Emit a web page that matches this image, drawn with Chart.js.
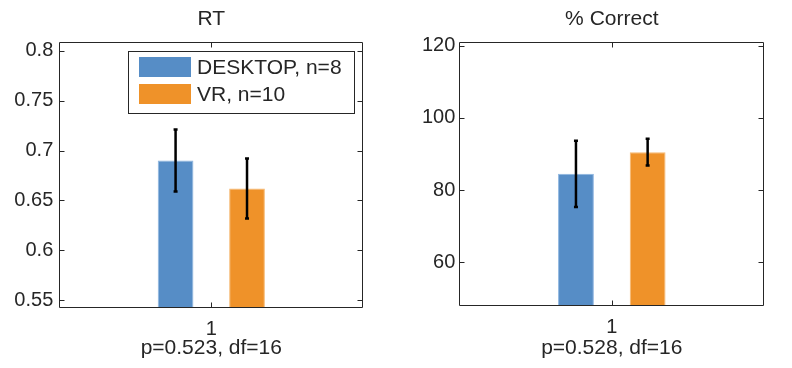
<!DOCTYPE html>
<html>
<head>
<meta charset="utf-8">
<script src="https://cdn.jsdelivr.net/npm/chart.js@4.4.1/dist/chart.umd.min.js"></script>
<style>
  html, body { margin: 0; padding: 0; background: #fff; }
  .row { display: flex; width: 792px; height: 368px; }
  .panel { width: 396px; height: 368px; }
</style>
</head>
<body>
<div class="row">
  <div class="panel"><canvas id="rtChart" width="396" height="368"></canvas></div>
  <div class="panel"><canvas id="pcChart" width="396" height="368"></canvas></div>
</div>
<script>
// ===== Data =====
const categories = ['1'];
const groups = ['DESKTOP, n=8', 'VR, n=10'];

const rtMeans = [0.69, 0.662];
const rtErrors = [0.031, 0.030];
const rtTicks = [0.55, 0.6, 0.65, 0.7, 0.75, 0.8];
const rtLimits = [0.542, 0.809];

const pcMeans = [84.5, 90.5];
const pcErrors = [9.2, 3.7];
const pcTicks = [60, 80, 100, 120];
const pcLimits = [47.9, 121.1];

const rtStats = 'p=0.523, df=16';
const pcStats = 'p=0.528, df=16';

// ===== Style =====
const FILLS = ['#568dc6', '#ef9229'];
const EDGES = ['#8db5e0', '#f6b870'];
const INK = '#262626';
const FAMILY = "'Liberation Sans', Arial, Helvetica, sans-serif";

// ===== Box + inward ticks (matlab look) =====
const matlabAxes = {
  id: 'matlabAxes',
  afterDraw(chart) {
    const { ctx, chartArea: a, scales: { x, y } } = chart;
    const len = 5;
    const L = Math.round(a.left) + 0.5;
    const R = Math.round(a.right) - 0.5;
    const T = Math.round(a.top) + 0.5;
    const B = Math.round(a.bottom) - 0.5;
    ctx.save();
    ctx.strokeStyle = INK;
    ctx.lineWidth = 1;
    ctx.beginPath();
    ctx.rect(L, T, R - L, B - T);
    y.ticks.forEach((t) => {
      const py = Math.round(y.getPixelForValue(t.value)) + 0.5;
      ctx.moveTo(L, py); ctx.lineTo(L + len, py);
      ctx.moveTo(R, py); ctx.lineTo(R - len, py);
    });
    x.ticks.forEach((t, i) => {
      const px = Math.round(x.getPixelForTick(i)) + 0.5;
      ctx.moveTo(px, B); ctx.lineTo(px, B - len);
      ctx.moveTo(px, T); ctx.lineTo(px, T + len);
    });
    ctx.stroke();
    ctx.restore();
  },
};

// ===== Error bars =====
const errorBars = {
  id: 'errorBars',
  afterDatasetsDraw(chart, args, opts) {
    const { ctx, scales: { y } } = chart;
    ctx.save();
    ctx.strokeStyle = '#000';
    ctx.lineWidth = 2.5;
    chart.data.datasets.forEach((ds, i) => {
      chart.getDatasetMeta(i).data.forEach((bar, j) => {
        const v = ds.data[j];
        const e = opts.errors[i];
        const top = y.getPixelForValue(v + e);
        const bot = y.getPixelForValue(v - e);
        ctx.beginPath();
        ctx.moveTo(bar.x, top); ctx.lineTo(bar.x, bot);
        ctx.moveTo(bar.x - 2, top); ctx.lineTo(bar.x + 2, top);
        ctx.moveTo(bar.x - 2, bot); ctx.lineTo(bar.x + 2, bot);
        ctx.stroke();
      });
    });
    ctx.restore();
  },
};

// ===== Legend inside the axes =====
const insideLegend = {
  id: 'insideLegend',
  afterDraw(chart, args, opts) {
    if (!opts.show) return;
    const { ctx, chartArea: a } = chart;
    ctx.save();
    ctx.font = `21px ${FAMILY}`;
    const textW = Math.max(...chart.data.datasets.map((d) => ctx.measureText(d.label).width));
    const w = Math.round(11 + 52 + 6 + textW + 12);
    const h = 62;
    const right = Math.round(a.right) - 9;
    const top = Math.round(a.top) + 9;
    const left = right - w;
    ctx.strokeStyle = INK;
    ctx.lineWidth = 1;
    ctx.strokeRect(left + 0.5, top + 0.5, w, h);
    chart.data.datasets.forEach((d, i) => {
      const sy = top + 6 + i * 27;
      ctx.fillStyle = d.backgroundColor;
      ctx.fillRect(left + 11, sy, 52, 20);
      ctx.fillStyle = INK;
      ctx.textBaseline = 'middle';
      ctx.fillText(d.label, left + 11 + 52 + 6, sy + 11);
    });
    ctx.restore();
  },
};

// ===== Chart builder =====
function renderPanel(id, cfg) {
  const canvas = document.getElementById(id);
  if (!canvas) return;

  new Chart(canvas, {
    type: 'bar',
    data: {
      labels: categories,
      datasets: groups.map((g, i) => ({
        label: g,
        data: [cfg.means[i]],
        backgroundColor: FILLS[i],
        borderColor: EDGES[i],
        borderWidth: 1,
        base: cfg.limits[0],
        categoryPercentage: 0.47,
        barPercentage: 0.5,
      })),
    },
    options: {
      responsive: false,
      animation: false,
      devicePixelRatio: 1,
      layout: { padding: { left: 0, right: cfg.padRight, top: 0, bottom: 0 } },
      plugins: {
        legend: { display: false },
        tooltip: { enabled: false },
        title: {
          display: true,
          fullSize: false,
          text: cfg.title,
          color: INK,
          font: { family: FAMILY, size: 21, weight: 'normal' },
          padding: { top: 7, bottom: 9.5 },
        },
        errorBars: { errors: cfg.errors },
        insideLegend: { show: cfg.legend },
      },
      scales: {
        x: {
          grid: { display: false, drawTicks: false },
          border: { display: false },
          ticks: { color: INK, font: { family: FAMILY, size: 20 }, padding: 9 },
          title: {
            display: true,
            text: cfg.stats,
            color: INK,
            font: { family: FAMILY, size: 21 },
            padding: { top: 0, bottom: 7 },
          },
          afterFit: (s) => {
            s.height = cfg.xHeight;
            s.paddingLeft = 0;
            s.paddingRight = 0;
          },
        },
        y: {
          min: cfg.limits[0],
          max: cfg.limits[1],
          grid: { display: false, drawTicks: false },
          border: { display: false },
          ticks: {
            color: INK,
            font: { family: FAMILY, size: 20 },
            padding: cfg.labelGap,
            callback: (v) => `${v}`,
          },
          afterBuildTicks: (s) => {
            s.ticks = cfg.ticks.map((v) => ({ value: v }));
          },
          afterFit: (s) => {
            s.width = cfg.yWidth;
            s.paddingTop = 0;
            s.paddingBottom = 0;
          },
        },
      },
    },
    plugins: [matlabAxes, errorBars, insideLegend],
  });
}

// ===== Init =====
renderPanel('rtChart', {
  title: 'RT',
  stats: rtStats,
  means: rtMeans,
  errors: rtErrors,
  ticks: rtTicks,
  limits: rtLimits,
  legend: true,
  yWidth: 59.3,
  padRight: 32.7,
  xHeight: 59.7,
  labelGap: 6,
});

renderPanel('pcChart', {
  title: '% Correct',
  stats: pcStats,
  means: pcMeans,
  errors: pcErrors,
  ticks: pcTicks,
  limits: pcLimits,
  legend: false,
  yWidth: 63.3,
  padRight: 27.7,
  xHeight: 62,
  labelGap: 4,
});
</script>
</body>
</html>
